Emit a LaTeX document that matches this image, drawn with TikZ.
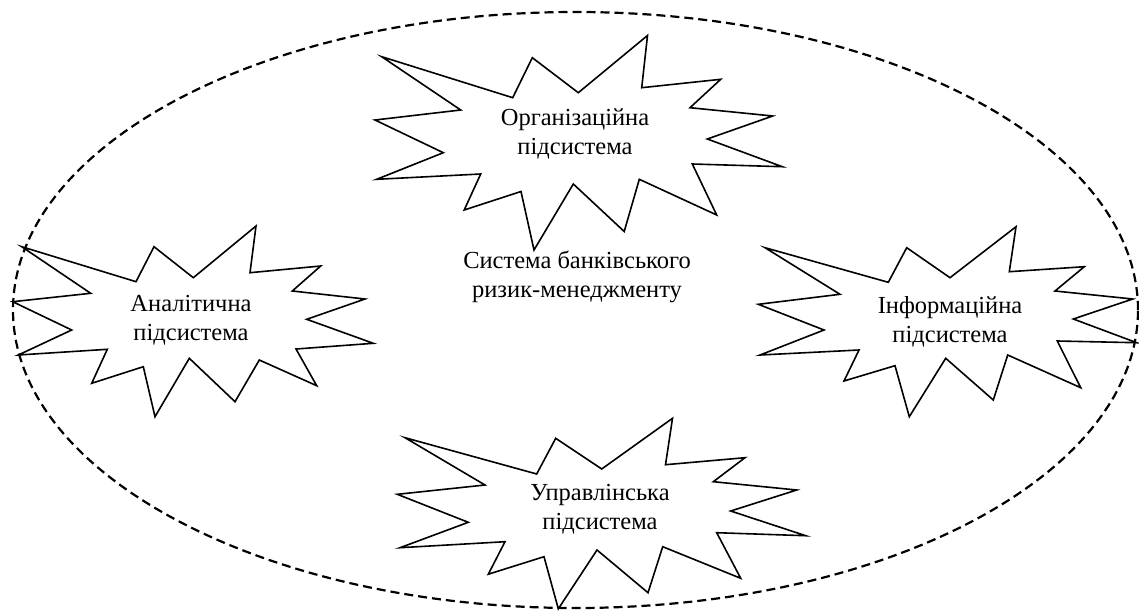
\documentclass[tikz,border=0pt]{standalone}
\usepackage{fontspec}
\setmainfont{Liberation Serif}
\usepackage{tikz}
\usetikzlibrary{positioning}
\definecolor{ink}{HTML}{000000}
\tikzset{
  %% shapes
  burst/.style   = {draw=ink, line width=1.6pt, line join=miter},
  border/.style  = {draw=ink, line width=2.2pt, dash pattern=on 9pt off 5pt},
  %% text
  lbl/.style     = {align=center, inner sep=0pt, text=ink,
                    font=\fontsize{24.5}{29}\selectfont},
}

\begin{document}
\begin{tikzpicture}[x=1pt, y=-1pt]
\useasboundingbox (0,0) rectangle (1139,610);

%% ---- outer boundary of the whole system ----
\draw[border] (575.5,310) ellipse [x radius=562.5pt, y radius=298pt];
\node[lbl] (sys) at (577,277) {Система банківського\\ризик-менеджменту};

%% ---- organisational (top) ----
\draw[burst] (381.7,56.7) -- (512.7,97.7) -- (532.3,57.7) -- (578.3,92.7)
  -- (647.5,35.5) -- (641.7,87.7) -- (720.7,79.3) -- (690,107.7)
  -- (772.7,116) -- (707.3,139) -- (782.3,166.7) -- (692.3,164)
  -- (716.7,215) -- (639.3,179.3) -- (624.2,231.5) -- (573.3,184)
  -- (534,250) -- (521,191.5) -- (464.2,210) -- (480.7,174)
  -- (376.7,179.3) -- (443.3,152.7) -- (375,120) -- (460.7,110) -- cycle;
\node[lbl] (org) at (575,134) {Організаційна\\підсистема};

%% ---- analytical (left) ----
\draw[burst] (21.7,246.7) -- (136,281.7) -- (154,246.7) -- (193.3,277.7)
  -- (256,226) -- (250,272.7) -- (320.7,266) -- (292.3,291)
  -- (365,299) -- (306.7,319.3) -- (373.3,343.3) -- (296,349)
  -- (316.7,385.7) -- (259.3,360) -- (235,401.7) -- (189.3,358.3)
  -- (155,416.7) -- (143.3,366.7) -- (91.7,383.3) -- (107.3,349.3)
  -- (18.3,355) -- (71.7,330) -- (12.7,301.7) -- (90.7,293.3) -- cycle;
\node[lbl] (anl) at (191,320) {Аналітична\\підсистема};

%% ---- informational (right) ----
\draw[burst] (765,247.7) -- (888.3,282.3) -- (906.7,247.7) -- (950,277.7)
  -- (1016,226.7) -- (1009.3,271.7) -- (1084.3,266.7) -- (1055,291)
  -- (1132.7,299) -- (1073.3,319) -- (1136.7,342.7) -- (1057.3,341)
  -- (1080.7,387.7) -- (1007.7,355) -- (993.3,400) -- (945.7,358.3)
  -- (909.3,416.7) -- (895,365.7) -- (844,381) -- (859,350)
  -- (760,355) -- (824,330) -- (758.3,304.3) -- (840,294.3) -- cycle;
\node[lbl] (inf) at (950,322) {Інформаційна\\підсистема};

%% ---- managerial (bottom) ----
\draw[burst] (405,437.7) -- (536.7,474) -- (555.7,438.3) -- (601.7,469)
  -- (672.5,418.3) -- (665.5,464.7) -- (745,457.7) -- (713.3,481.7)
  -- (796.7,490) -- (730.7,511) -- (805.7,535.7) -- (716.7,532.7)
  -- (740.7,578.3) -- (662.7,546.7) -- (648,592.7) -- (597,550)
  -- (558.3,608.8) -- (544,556.7) -- (488.3,574.2) -- (505,541.7)
  -- (400,547.7) -- (468.3,522.3) -- (397.3,494.3) -- (485,485) -- cycle;
\node[lbl] (mgr) at (600,509) {Управлінська\\підсистема};
\end{tikzpicture}
\end{document}
